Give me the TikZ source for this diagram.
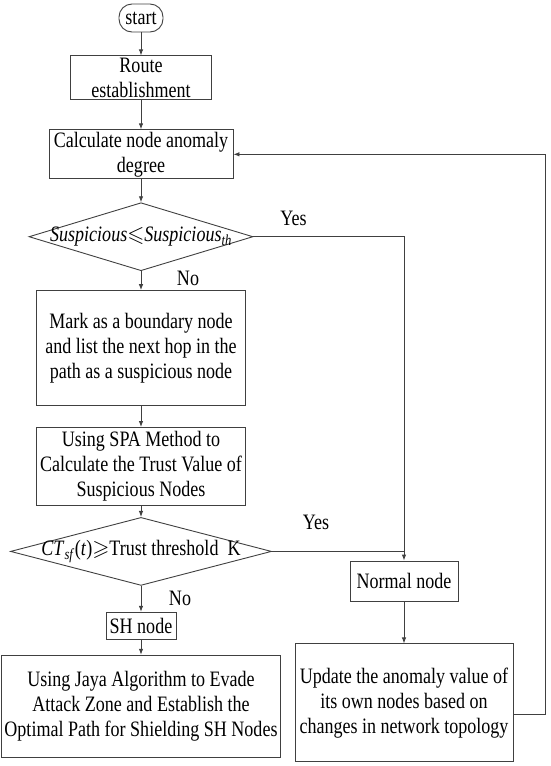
\documentclass[tikz,border=0pt]{standalone}
\usepackage{fontspec}
\setmainfont{Liberation Serif}[FakeStretch=0.82]
\usepackage{amssymb}
\usetikzlibrary{arrows.meta, positioning, shapes.geometric}

\begin{document}
\begin{tikzpicture}[
x=1pt, y=1pt,
font=\fontsize{22}{25}\selectfont,
box/.style={draw=black!75,
line width=0.9pt,
rectangle,
inner sep=2pt,
align=center},
decision/.style={draw=black!75,
line width=0.9pt,
diamond,
inner sep=0pt,
minimum height=68pt},
arrow/.style={-{Latex[length=6pt,width=4.5pt]}, draw=black!75, line width=0.9pt},
line/.style={draw=black!75, line width=0.9pt} ]

\useasboundingbox (0,0) rectangle (550,-766);

\node[box, rounded corners=13pt, minimum width=44pt, minimum height=28pt] (start) at (141,-18) {start};
\node[box, minimum width=141pt, minimum height=44pt, below=23pt of start] (route) {Route\\establishment};
\node[box, minimum width=184pt, minimum height=44pt, below=29pt of route] (calc) {Calculate node anomaly\\degree};
\node[decision, minimum width=224pt, below=23pt of calc] (check1) {\makebox[0pt]{\textit{Suspicious}$\leqslant$\textit{Suspicious}\textsubscript{\textit{th}}}};
\node[box, minimum width=209pt, minimum height=115pt, below=19pt of check1] (mark) {Mark as a boundary node\\and list the next hop in the\\path as a suspicious node};
\node[box, minimum width=209pt, minimum height=78pt, below=21pt of mark] (spa) {Using SPA Method to\\Calculate the Trust Value of\\Suspicious Nodes};
\node[decision, minimum width=261pt, below=11pt of spa] (check2) {\makebox[0pt]{\textit{CT}\textsubscript{\textit{sf}}(\textit{t})$\geqslant$Trust threshold\ \ K}};
\node[box, minimum width=70pt, minimum height=27pt, below=26pt of check2] (sh) {SH node};
\node[box, minimum width=279pt, minimum height=102pt, below=15pt of sh] (jaya) {Using Jaya Algorithm to Evade\\Attack Zone and Establish the\\Optimal Path for Shielding SH Nodes};

\node[box, minimum width=108pt, minimum height=40pt] (normal) at (404,-581) {Normal node};
\node[box, minimum width=218pt, minimum height=118pt, below=42pt of normal] (update) {Update the anomaly value of\\its own nodes based on\\changes in network topology};

\node (yes1) at ([xshift=40pt, yshift=18pt]check1.east) {Yes};
\node (no1) at ([xshift=47pt, yshift=-7pt]check1.south) {No};
\node (yes2) at ([xshift=44pt, yshift=29pt]check2.east) {Yes};
\node (no2) at ([xshift=39pt, yshift=-13pt]check2.south) {No};

\draw[arrow] (start) -- (route);
\draw[arrow] (route) -- (calc);
\draw[arrow] (calc) -- (check1);
\draw[arrow] (check1) -- (mark);
\draw[arrow] (mark) -- (spa);
\draw[arrow] (spa) -- (check2);
\draw[arrow] (check2) -- (sh);
\draw[arrow] (sh) -- (jaya);
\draw[arrow] (check1.east) -| (normal.north);
\draw[line] (check2.east) -- (check2.east -| normal.north);
\draw[arrow] (normal) -- (update);
\draw[arrow] ([yshift=-12pt]update.east) -- ++(32pt,0) |- (calc.east);

\end{tikzpicture}
\end{document}
